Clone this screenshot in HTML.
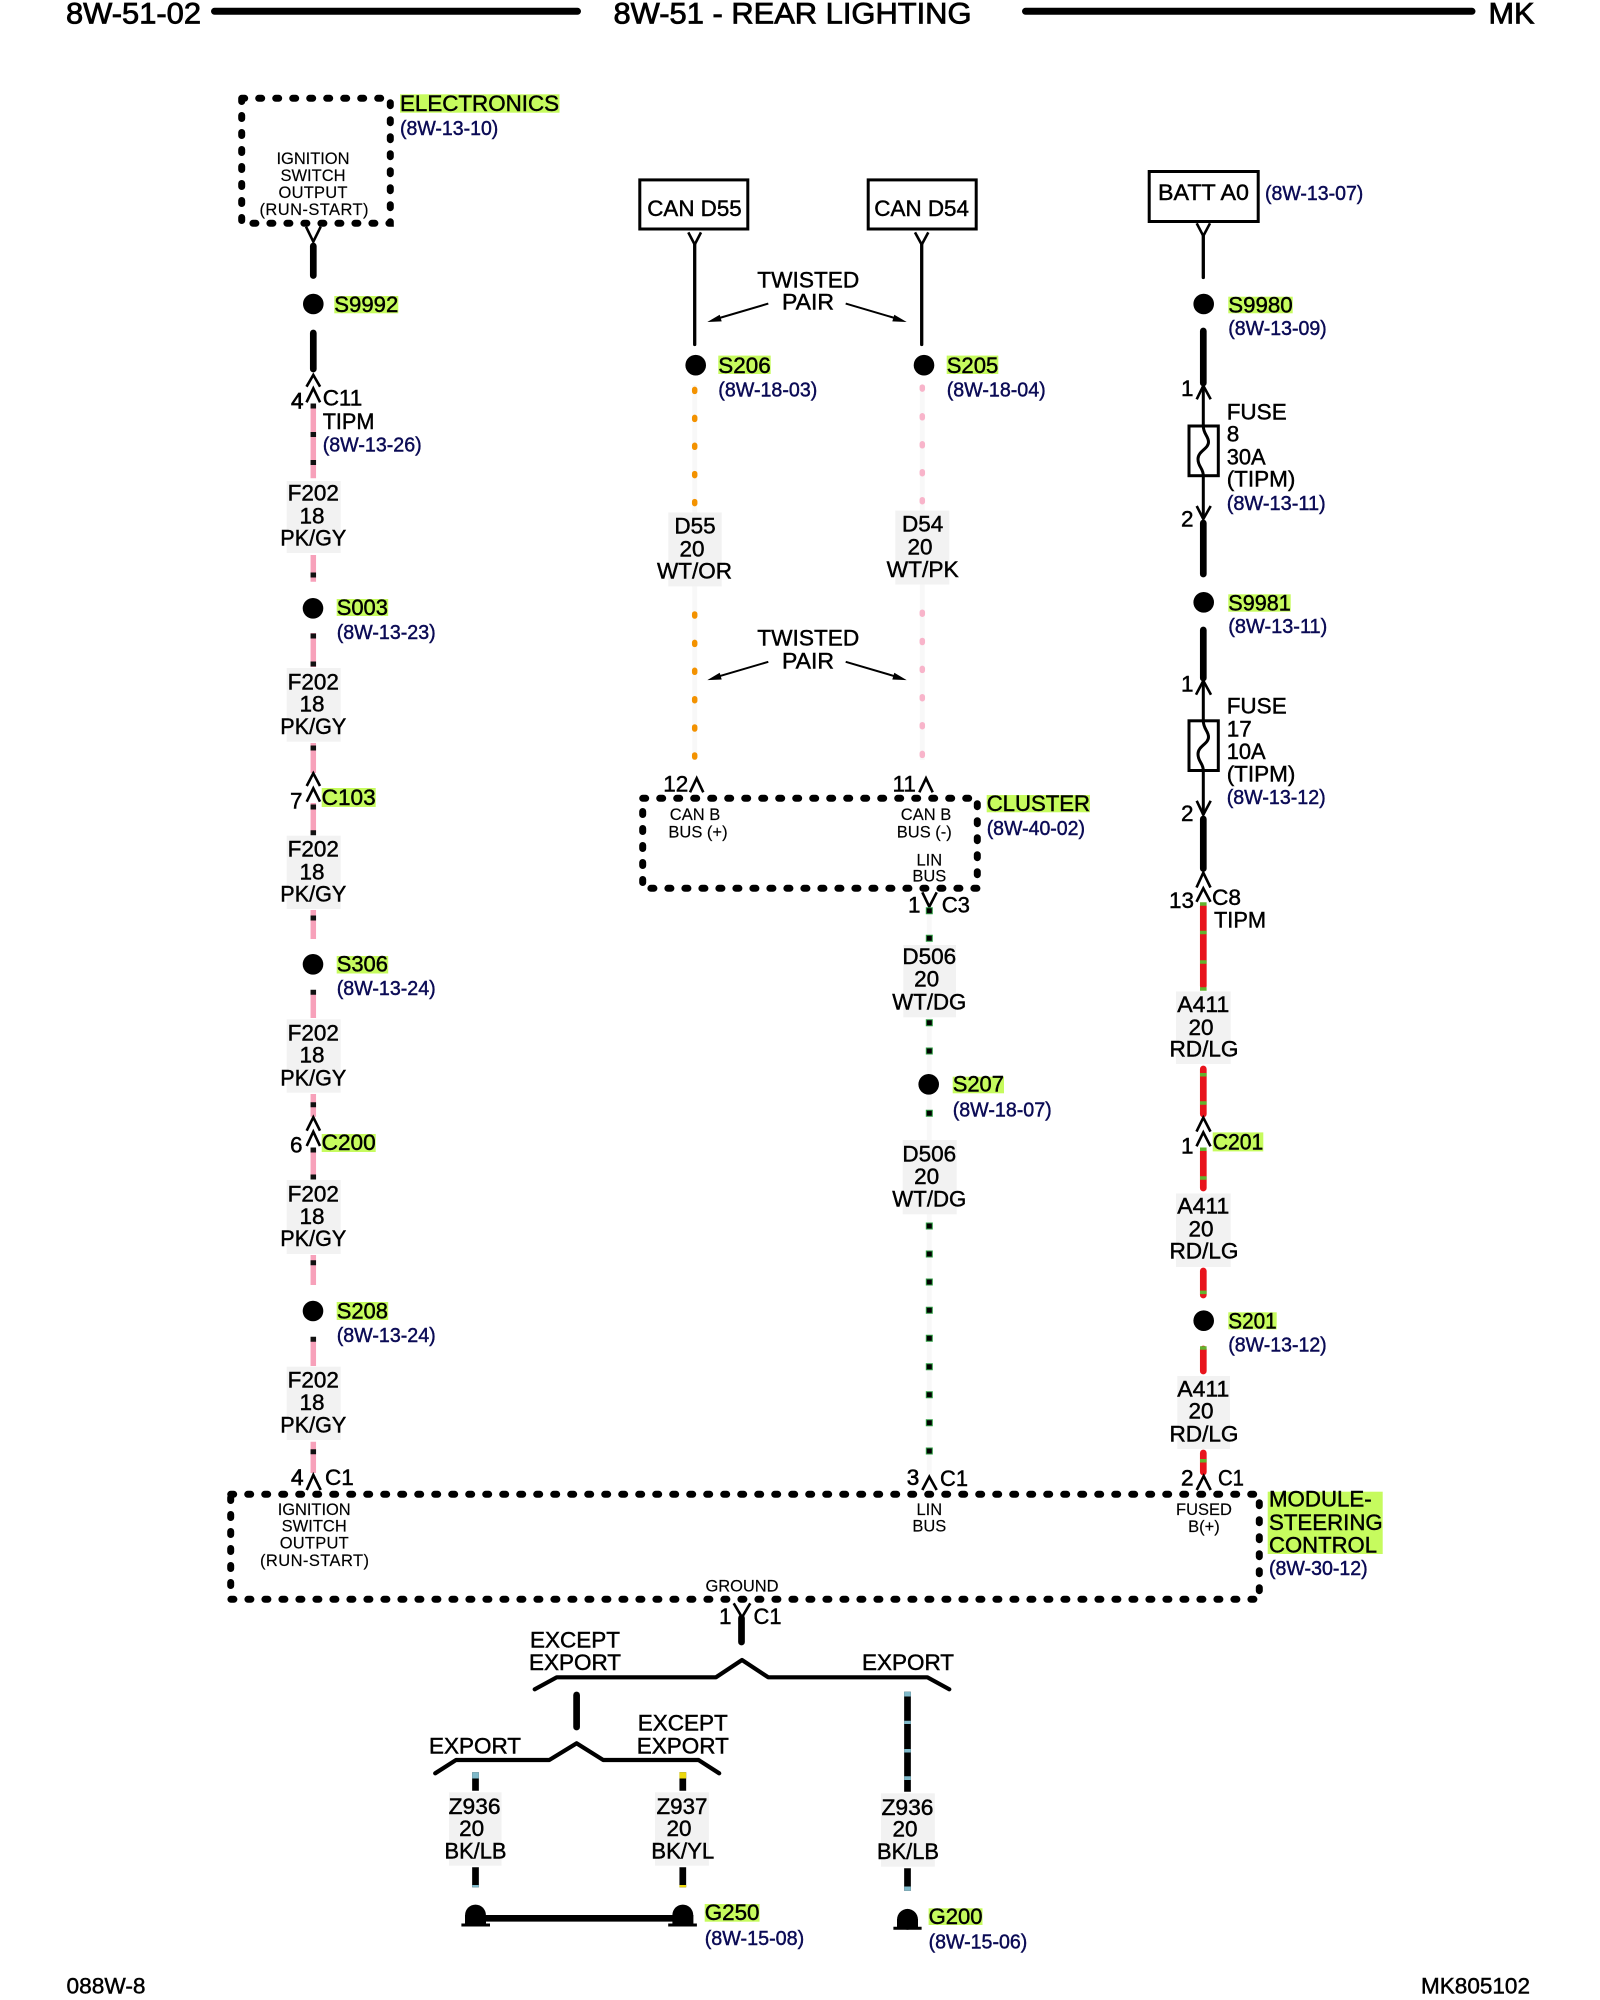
<!DOCTYPE html>
<html>
<head>
<meta charset="utf-8">
<title>8W-51 - REAR LIGHTING</title>
<style>
html,body{margin:0;padding:0;background:#fff;width:1600px;height:2000px;overflow:hidden}
svg{display:block}
text{font-family:"Liberation Sans",sans-serif;font-size:22.5px;fill:#000;stroke:#000;stroke-width:.45}
.m{text-anchor:middle}
.r{font-size:20px;fill:#0b0b55;stroke:#0b0b55;stroke-width:.45}
.s{font-size:16.5px;text-anchor:middle;fill:#000;stroke:#000;stroke-width:.15}
.h{font-size:30px;stroke-width:.8}
.g{fill:#c6fb5e}
.b{fill:#f2f2f2}
.d{fill:none;stroke:#000;stroke-width:7;stroke-dasharray:3 14;stroke-linecap:round}
.w{fill:none;stroke:#000;stroke-width:6.7;stroke-linecap:round}
.n{fill:none;stroke:#000;stroke-width:3.3;stroke-linecap:round}
.c{fill:none;stroke:#000;stroke-width:2.6}
.p{fill:none;stroke:#f7a1ba;stroke-width:5.5}
.k{fill:none;stroke:#111;stroke-width:5.5}
.f{fill:none;stroke:#f8f8f8;stroke-width:5}
.red{fill:none;stroke:#e8141c;stroke-width:6.7;stroke-linecap:round}
.lg{fill:none;stroke:#62b32e;stroke-width:3.5}
.or{fill:none;stroke:#f39200;stroke-width:5.5;stroke-linecap:round}
.pk{fill:none;stroke:#f8b4ca;stroke-width:5.5;stroke-linecap:round}
.dg{fill:none;stroke:#2f9e44;stroke-width:7}
.dk{fill:none;stroke:#000;stroke-width:5}
.lb{fill:none;stroke:#7fb9c9;stroke-width:6.7}
.yl{fill:none;stroke:#ecd80c;stroke-width:6.7}
.br{fill:none;stroke:#000;stroke-width:4.2;stroke-linecap:round;stroke-linejoin:round}
</style>
</head>
<body>
<svg xmlns="http://www.w3.org/2000/svg" width="1600" height="2000" viewBox="0 0 1600 2000">

<!-- header -->
<text class="h" x="66" y="23.5" textLength="135" lengthAdjust="spacingAndGlyphs">8W-51-02</text>
<text class="h" x="613.5" y="23.5" textLength="358" lengthAdjust="spacingAndGlyphs">8W-51 - REAR LIGHTING</text>
<text class="h" x="1488.5" y="23.5" textLength="46" lengthAdjust="spacingAndGlyphs">MK</text>
<path d="M214.5 11.3H577.5M1025.5 11.3H1472" stroke="#000" stroke-width="7" stroke-linecap="round" fill="none"/>

<!-- footer -->
<text x="66.5" y="1993.5" textLength="79" lengthAdjust="spacingAndGlyphs">088W-8</text>
<text x="1426" y="1993.5" textLength="109" lengthAdjust="spacingAndGlyphs" transform="translate(-5 0)">MK805102</text>

<!-- LEFT COLUMN -->
<rect class="d" x="241.7" y="98.3" width="148.6" height="125"/>
<text class="s" x="313" y="164" textLength="73">IGNITION</text>
<text class="s" x="313" y="181">SWITCH</text>
<text class="s" x="313" y="198" textLength="69">OUTPUT</text>
<text class="s" x="314" y="215" textLength="109">(RUN-START)</text>
<rect class="g" x="400" y="94.3" width="159.5" height="18.4"/>
<text x="400" y="111" textLength="159" lengthAdjust="spacingAndGlyphs">ELECTRONICS</text>
<text class="r" x="400" y="135" textLength="98.3" lengthAdjust="spacingAndGlyphs">(8W-13-10)</text>
<path class="c" d="M306 226.7L313.3 241.7L320.7 226.7"/>
<path class="w" d="M313.3 246V275.5M313.3 333V369"/>
<circle cx="313.3" cy="304" r="10.3"/>
<rect class="g" x="334.3" y="296" width="64" height="17.3"/>
<text x="334.3" y="312" textLength="64" lengthAdjust="spacingAndGlyphs">S9992</text>
<path class="c" d="M306.5 386.7L313.3 375L320.1 386.7M306.5 402.3L313.3 388.3L320.1 402.3"/>
<text x="291" y="408.3" style="stroke-width:.7">4</text>
<text x="322.7" y="405.7">C11</text>
<text x="322.7" y="429" textLength="51.7" lengthAdjust="spacingAndGlyphs">TIPM</text>
<text class="r" x="322.7" y="451.7" textLength="99" lengthAdjust="spacingAndGlyphs">(8W-13-26)</text>

<path class="p" d="M313.3 405V478.3M313.3 555V581.7M313.3 633V667M313.3 743V773M313.3 803V833M313.3 910V939M313.3 990V1018M313.3 1094V1116.7M313.3 1148V1179M313.3 1255V1285M313.3 1337V1366M313.3 1441.7V1473"/>
<path class="k" d="M313.3 403.5V408.5M313.3 432V437M313.3 460V465M313.3 572.5V577.5M313.3 633.5V638.5M313.3 661.5V666.5M313.3 745.5V750.5M313.3 804.5V809.5M313.3 830.2V835.2M313.3 915.5V920.5M313.3 989.8V994.8M313.3 1102.2V1107.2M313.3 1147.5V1152.5M313.3 1174.5V1179.5M313.3 1260.2V1265.2M313.3 1336.8V1341.8M313.3 1449.2V1454.2"/>

<g class="m">
<rect class="b" x="286.7" y="481" width="54" height="72"/>
<text class="m" x="313.3" y="500.7">F202</text><text class="m" x="312" y="523.3">18</text><text class="m" x="313.3" y="545.7" textLength="66" lengthAdjust="spacingAndGlyphs">PK/GY</text>
<rect class="b" x="286.7" y="668" width="54" height="73.7"/>
<text class="m" x="313.3" y="689.3">F202</text><text class="m" x="312" y="711.7">18</text><text class="m" x="313.3" y="734" textLength="66" lengthAdjust="spacingAndGlyphs">PK/GY</text>
<rect class="b" x="286.7" y="835.7" width="54" height="73.3"/>
<text class="m" x="313.3" y="856.7">F202</text><text class="m" x="312" y="879.3">18</text><text class="m" x="313.3" y="901.7" textLength="66" lengthAdjust="spacingAndGlyphs">PK/GY</text>
<rect class="b" x="286.7" y="1019.3" width="54" height="73.4"/>
<text class="m" x="313.3" y="1040.7">F202</text><text class="m" x="312" y="1062.7">18</text><text class="m" x="313.3" y="1085.3" textLength="66" lengthAdjust="spacingAndGlyphs">PK/GY</text>
<rect class="b" x="286.7" y="1180" width="54" height="74"/>
<text class="m" x="313.3" y="1201.7">F202</text><text class="m" x="312" y="1224">18</text><text class="m" x="313.3" y="1246" textLength="66" lengthAdjust="spacingAndGlyphs">PK/GY</text>
<rect class="b" x="286.7" y="1366.7" width="54" height="73.3"/>
<text class="m" x="313.3" y="1387.3">F202</text><text class="m" x="312" y="1410">18</text><text class="m" x="313.3" y="1432.3" textLength="66" lengthAdjust="spacingAndGlyphs">PK/GY</text>
</g>

<circle cx="313" cy="608.3" r="10.3"/>
<rect class="g" x="336.7" y="599" width="51.5" height="17"/>
<text x="336.7" y="615" textLength="51.3" lengthAdjust="spacingAndGlyphs">S003</text>
<text class="r" x="336.7" y="639" textLength="99" lengthAdjust="spacingAndGlyphs">(8W-13-23)</text>

<path class="c" d="M306.7 786L313.3 773.3L320 786M306.7 801.7L313.3 788.3L320 801.7"/>
<text x="290" y="808.3">7</text>
<rect class="g" x="321.7" y="788" width="54" height="19"/>
<text x="321.7" y="805" textLength="54" lengthAdjust="spacingAndGlyphs">C103</text>

<circle cx="313" cy="964.3" r="10.3"/>
<rect class="g" x="336.7" y="956" width="51.5" height="17.5"/>
<text x="336.7" y="971.7" textLength="51.3" lengthAdjust="spacingAndGlyphs">S306</text>
<text class="r" x="336.7" y="995" textLength="99" lengthAdjust="spacingAndGlyphs">(8W-13-24)</text>

<path class="c" d="M306.7 1130.7L313.3 1117.3L320 1130.7M306.7 1146L313.3 1131.7L320 1146"/>
<text x="290" y="1152.7">6</text>
<rect class="g" x="321.7" y="1134" width="54" height="18"/>
<text x="321.7" y="1150" textLength="54" lengthAdjust="spacingAndGlyphs">C200</text>

<circle cx="313" cy="1311" r="10.3"/>
<rect class="g" x="336.7" y="1302" width="51.5" height="18"/>
<text x="336.7" y="1318.3" textLength="51.3" lengthAdjust="spacingAndGlyphs">S208</text>
<text class="r" x="336.7" y="1342" textLength="99" lengthAdjust="spacingAndGlyphs">(8W-13-24)</text>

<path class="c" d="M306.7 1490L313.3 1475L320.7 1490"/>
<text x="291" y="1485" style="stroke-width:.7">4</text>
<text x="325" y="1485">C1</text>

<!-- MODULE BOX -->
<rect class="d" x="230.7" y="1494.3" width="1028.6" height="105"/>
<text class="s" x="314.2" y="1515" textLength="73">IGNITION</text>
<text class="s" x="314.2" y="1531.7">SWITCH</text>
<text class="s" x="314.2" y="1548.3" textLength="69">OUTPUT</text>
<text class="s" x="314.5" y="1566" textLength="109">(RUN-START)</text>
<text class="s" x="929.3" y="1515">LIN</text>
<text class="s" x="929.3" y="1531.7">BUS</text>
<text class="s" x="1204" y="1515">FUSED</text>
<text class="s" x="1204" y="1532">B(+)</text>
<text class="s" x="742" y="1591.7" textLength="73">GROUND</text>
<rect class="g" x="1267.7" y="1491.7" width="115" height="62.3"/>
<text x="1269" y="1506.7" textLength="102.7" lengthAdjust="spacingAndGlyphs">MODULE-</text>
<text x="1269" y="1530" textLength="113.7" lengthAdjust="spacingAndGlyphs">STEERING</text>
<text x="1269" y="1552.7" textLength="108" lengthAdjust="spacingAndGlyphs">CONTROL</text>
<text class="r" x="1269" y="1575" textLength="98.7" lengthAdjust="spacingAndGlyphs">(8W-30-12)</text>

<!-- MIDDLE -->
<rect x="639.8" y="179.9" width="108" height="49.1" fill="#fff" stroke="#000" stroke-width="3"/>
<text x="647.3" y="216" textLength="94.4" lengthAdjust="spacingAndGlyphs">CAN D55</text>
<path class="c" d="M688.3 232.4L694.7 244.6L701 232.4"/>
<path class="n" d="M694.7 244.6V344.5"/>
<rect x="868.2" y="179.9" width="108" height="49.1" fill="#fff" stroke="#000" stroke-width="3"/>
<text x="874.3" y="216" textLength="94.7" lengthAdjust="spacingAndGlyphs">CAN D54</text>
<path class="c" d="M915 232.4L921.7 244.6L928.3 232.4"/>
<path class="n" d="M921.7 244.6V344.5"/>

<text class="m" x="808.3" y="287.5" textLength="102" lengthAdjust="spacingAndGlyphs">TWISTED</text>
<text class="m" x="808" y="309.7" textLength="52" lengthAdjust="spacingAndGlyphs">PAIR</text>
<path d="M768.3 303.6L716 319M845.7 303.6L898 319" stroke="#000" stroke-width="2" fill="none"/>
<path d="M707.3 322L721.7 321.4L719.7 314.7ZM906.7 322L892.3 321.4L894.3 314.7Z"/>
<text class="m" x="808.3" y="645.7" textLength="102" lengthAdjust="spacingAndGlyphs">TWISTED</text>
<text class="m" x="808" y="668.7" textLength="52" lengthAdjust="spacingAndGlyphs">PAIR</text>
<path d="M768.3 661.8L716 677.2M845.7 661.8L898 677.2" stroke="#000" stroke-width="2" fill="none"/>
<path d="M707.3 680.1L721.7 679.5L719.7 672.8ZM906.7 680.1L892.3 679.5L894.3 672.8Z"/>

<circle cx="695.7" cy="365.2" r="10.3"/>
<circle cx="924" cy="365.2" r="10.3"/>
<rect class="g" x="718.3" y="355.6" width="52.4" height="18.4"/>
<text x="718.3" y="372.8" textLength="52.4" lengthAdjust="spacingAndGlyphs">S206</text>
<text class="r" x="718.3" y="396.3" textLength="99" lengthAdjust="spacingAndGlyphs">(8W-18-03)</text>
<rect class="g" x="946.7" y="355.6" width="51.6" height="18.4"/>
<text x="946.7" y="372.8" textLength="51.6" lengthAdjust="spacingAndGlyphs">S205</text>
<text class="r" x="946.7" y="396.3" textLength="99" lengthAdjust="spacingAndGlyphs">(8W-18-04)</text>

<path class="f" d="M694.7 385V760M922.3 385V760M929.3 905V1475"/>
<path class="or" d="M694.7 389.4v2M694.7 417.4v2M694.7 445.3v2M694.7 473.6v2M694.7 501.6v2M694.7 614v2M694.7 642.4v2M694.7 670.3v2M694.7 698.7v2M694.7 727v2M694.7 755v2"/>
<path class="pk" d="M922.3 387.1v2M922.3 415.8v2M922.3 443.8v2M922.3 471.7v2M922.3 499.7v2M922.3 612.2v2M922.3 640.5v2M922.3 668.4v2M922.3 696.7v2M922.3 724.7v2M922.3 753.4v2"/>

<rect class="b" x="668.3" y="512.5" width="53.4" height="73.9"/>
<text class="m" x="695" y="533.6">D55</text><text class="m" x="692" y="556.5">20</text><text class="m" x="694.5" y="578.7" textLength="75" lengthAdjust="spacingAndGlyphs">WT/OR</text>
<rect class="b" x="895.3" y="510.6" width="54" height="73.9"/>
<text class="m" x="922.7" y="531.7">D54</text><text class="m" x="920" y="554.6">20</text><text class="m" x="922.7" y="576.8" textLength="72" lengthAdjust="spacingAndGlyphs">WT/PK</text>

<text x="663.3" y="791.7">12</text>
<path class="c" d="M690 792.3L696.7 778.3L703.3 792.3"/>
<text x="892.5" y="791.7">11</text>
<path class="c" d="M919.3 792.3L926 778.3L932.7 792.3"/>
<rect class="d" x="642.7" y="798.3" width="334.6" height="90"/>
<text class="s" x="695" y="820">CAN B</text>
<text class="s" x="698" y="837.3">BUS (+)</text>
<text class="s" x="926" y="820">CAN B</text>
<text class="s" x="924.3" y="837.3">BUS (-)</text>
<text class="s" x="929.3" y="865.7">LIN</text>
<text class="s" x="929.3" y="881.7">BUS</text>
<rect class="g" x="986.7" y="795" width="103.3" height="17.3"/>
<text x="986.7" y="811" textLength="103.3" lengthAdjust="spacingAndGlyphs">CLUSTER</text>
<text class="r" x="986.7" y="835" textLength="98.3" lengthAdjust="spacingAndGlyphs">(8W-40-02)</text>
<path class="c" d="M922.3 892.3L929.3 906.7L936.7 892.3"/>
<text x="908" y="912.7">1</text>
<text x="941.7" y="912.7" textLength="28.3" lengthAdjust="spacingAndGlyphs">C3</text>

<path class="dg" d="M929.3 907.2v7M929.3 934.8v7M929.3 1019.2v7M929.3 1047.5v7M929.3 1109.8v7M929.3 1222.5v7M929.3 1250.5v7M929.3 1278.5v7M929.3 1306.8v7M929.3 1334.8v7M929.3 1363.2v7M929.3 1391.2v7M929.3 1419.2v7M929.3 1447.5v7"/>
<path class="dk" d="M929.3 908.2v5M929.3 935.8v5M929.3 1020.2v5M929.3 1048.5v5M929.3 1110.8v5M929.3 1223.5v5M929.3 1251.5v5M929.3 1279.5v5M929.3 1307.8v5M929.3 1335.8v5M929.3 1364.2v5M929.3 1392.2v5M929.3 1420.2v5M929.3 1448.5v5"/>

<rect class="b" x="903.3" y="945" width="52.7" height="72.3"/>
<text class="m" x="929.3" y="964">D506</text><text class="m" x="926.7" y="986.7">20</text><text class="m" x="929.3" y="1009.3" textLength="74" lengthAdjust="spacingAndGlyphs">WT/DG</text>
<circle cx="928.7" cy="1084.3" r="10.3"/>
<rect class="g" x="952.7" y="1076.7" width="51.3" height="16.6"/>
<text x="952.7" y="1091.7" textLength="51.3" lengthAdjust="spacingAndGlyphs">S207</text>
<text class="r" x="952.7" y="1116.3" textLength="99" lengthAdjust="spacingAndGlyphs">(8W-18-07)</text>
<rect class="b" x="902.7" y="1140" width="54" height="74.3"/>
<text class="m" x="929.3" y="1161.3">D506</text><text class="m" x="926.7" y="1184">20</text><text class="m" x="929.3" y="1206.3" textLength="74" lengthAdjust="spacingAndGlyphs">WT/DG</text>
<path class="c" d="M922.3 1490L929.3 1476.7L936.7 1490"/>
<text x="906.7" y="1485" style="stroke-width:.6">3</text>
<text x="940" y="1486" textLength="28" lengthAdjust="spacingAndGlyphs">C1</text>

<!-- RIGHT COLUMN -->
<rect x="1149.2" y="171.5" width="109" height="50" fill="#fff" stroke="#000" stroke-width="3"/>
<text x="1158" y="200" textLength="91" lengthAdjust="spacingAndGlyphs">BATT A0</text>
<text class="r" x="1265" y="200" textLength="98.3" lengthAdjust="spacingAndGlyphs">(8W-13-07)</text>
<path class="c" d="M1196.7 223.3L1203.3 236L1210 223.3"/>
<path class="n" d="M1203.3 236V277.5"/>
<circle cx="1203.7" cy="304" r="10.3"/>
<rect class="g" x="1228.3" y="296.7" width="64.4" height="16.6"/>
<text x="1228.3" y="312.3" textLength="64.4" lengthAdjust="spacingAndGlyphs">S9980</text>
<text class="r" x="1228.3" y="335" textLength="98.4" lengthAdjust="spacingAndGlyphs">(8W-13-09)</text>
<path class="w" d="M1203.3 331V383M1203.3 523V574"/>
<text x="1181" y="396">1</text>
<path class="c" d="M1196.7 399.3L1203.3 385.7L1210.7 399.3"/>
<path class="c" style="stroke-width:3" d="M1203.3 385.7V426M1203.3 475.7V518"/>
<rect x="1189" y="426" width="29.3" height="49.7" fill="#fff" stroke="#000" stroke-width="3"/>
<path class="c" style="stroke-width:3" d="M1203.3 426C1203.3 434 1208.5 436 1208.5 442C1208.5 449 1198 451 1198 459C1198 467 1203.3 468 1203.3 475.7"/>
<text x="1226.7" y="419.3">FUSE</text>
<text x="1226.7" y="441.7">8</text>
<text x="1226.7" y="464.3" textLength="39" lengthAdjust="spacingAndGlyphs">30A</text>
<text x="1226.7" y="486.7">(TIPM)</text>
<text class="r" x="1226.7" y="510" textLength="99" lengthAdjust="spacingAndGlyphs">(8W-13-11)</text>
<text x="1181" y="526.7">2</text>
<path class="c" d="M1196.7 506L1203.3 519L1210.7 506"/>
<circle cx="1203.7" cy="602.3" r="10.3"/>
<rect class="g" x="1228.3" y="594.3" width="62.4" height="17.4"/>
<text x="1228.3" y="610.7" textLength="62.4" lengthAdjust="spacingAndGlyphs">S9981</text>
<text class="r" x="1228.3" y="633" textLength="99" lengthAdjust="spacingAndGlyphs">(8W-13-11)</text>
<path class="w" d="M1203.3 630V678M1203.3 819V868.5"/>
<text x="1181" y="691.3">1</text>
<path class="c" d="M1196 694.7L1203.3 680.8L1211 694.7"/>
<path class="c" style="stroke-width:3" d="M1203.3 680.8V720.8M1203.3 770.5V814.7"/>
<rect x="1189" y="720.8" width="29.3" height="49.7" fill="#fff" stroke="#000" stroke-width="3"/>
<path class="c" style="stroke-width:3" d="M1203.3 720.8C1203.3 729 1208.5 731 1208.5 737C1208.5 744 1198 746 1198 754C1198 762 1203.3 763 1203.3 770.5"/>
<text x="1226.7" y="713.7">FUSE</text>
<text x="1226.7" y="736.3">17</text>
<text x="1226.7" y="759" textLength="39" lengthAdjust="spacingAndGlyphs">10A</text>
<text x="1226.7" y="781.7">(TIPM)</text>
<text class="r" x="1226.7" y="804" textLength="99" lengthAdjust="spacingAndGlyphs">(8W-13-12)</text>
<text x="1181" y="821">2</text>
<path class="c" d="M1196.7 800.8L1203.3 814.7L1210.7 800.8"/>
<path class="c" d="M1196.5 887.5L1203.3 872.7L1210.5 887.5M1196.5 901.8L1203.3 888.3L1210.5 901.8"/>
<text x="1169" y="908.1">13</text>
<text x="1212" y="905" textLength="29" lengthAdjust="spacingAndGlyphs">C8</text>
<text x="1214" y="927.5" textLength="52" lengthAdjust="spacingAndGlyphs">TIPM</text>

<path class="red" d="M1203.3 906V986M1203.3 1069V1114M1203.3 1151V1188M1203.3 1271V1295M1203.3 1349V1371M1203.3 1453V1472"/>
<path class="lg" d="M1200 904h6.6M1200 932.5h6.6M1200 962h6.6M1200 989h6.6M1200 1074.8h6.6M1200 1103h6.6M1200 1149.3h6.6M1200 1178h6.6M1200 1292.4h6.6M1200 1348h6.6M1200 1460.7h6.6"/>

<rect class="b" x="1176" y="991.4" width="54.7" height="72.6"/>
<text class="m" x="1203.3" y="1012" textLength="52" lengthAdjust="spacingAndGlyphs">A411</text><text class="m" x="1201" y="1035">20</text><text class="m" x="1204" y="1056.7" textLength="69" lengthAdjust="spacingAndGlyphs">RD/LG</text>
<path class="c" d="M1196.5 1131.6L1203.3 1117.7L1210.5 1131.6M1196.5 1146.3L1203.3 1132.4L1210.5 1146.3"/>
<text x="1181" y="1153.5">1</text>
<rect class="g" x="1212.7" y="1132.4" width="50.6" height="19"/>
<text x="1212.7" y="1149.3" textLength="50.6" lengthAdjust="spacingAndGlyphs">C201</text>
<rect class="b" x="1176" y="1193.5" width="54.7" height="73.5"/>
<text class="m" x="1203.3" y="1213.7" textLength="52" lengthAdjust="spacingAndGlyphs">A411</text><text class="m" x="1201" y="1236.5">20</text><text class="m" x="1204" y="1258.7" textLength="69" lengthAdjust="spacingAndGlyphs">RD/LG</text>
<circle cx="1203.7" cy="1320.7" r="10.3"/>
<rect class="g" x="1228.3" y="1312.3" width="48.4" height="17"/>
<text x="1228.3" y="1328.3" textLength="48.4" lengthAdjust="spacingAndGlyphs">S201</text>
<text class="r" x="1228.3" y="1351.7" textLength="98.4" lengthAdjust="spacingAndGlyphs">(8W-13-12)</text>
<rect class="b" x="1177.3" y="1376" width="52.7" height="73"/>
<text class="m" x="1203.3" y="1396.7" textLength="52" lengthAdjust="spacingAndGlyphs">A411</text><text class="m" x="1201" y="1418.3">20</text><text class="m" x="1204" y="1441.7" textLength="69" lengthAdjust="spacingAndGlyphs">RD/LG</text>
<path class="c" d="M1196.7 1490L1203.7 1476L1210.7 1490"/>
<text x="1181" y="1485.7" style="stroke-width:.6">2</text>
<text x="1218" y="1485.7" textLength="26" lengthAdjust="spacingAndGlyphs">C1</text>

<!-- GROUND -->
<path class="c" d="M733.7 1603.3L742 1617.3L750.3 1603.3"/>
<text x="719" y="1624">1</text>
<text x="753.5" y="1624" textLength="28" lengthAdjust="spacingAndGlyphs">C1</text>
<path class="w" d="M741.5 1618V1642"/>
<text class="m" x="575" y="1647.3">EXCEPT</text>
<text class="m" x="575" y="1670" textLength="92" lengthAdjust="spacingAndGlyphs">EXPORT</text>
<text class="m" x="908" y="1670" textLength="92" lengthAdjust="spacingAndGlyphs">EXPORT</text>
<path class="br" d="M534.7 1689.3L556.7 1677.3H716L742 1660L768.2 1677.3H927.4L949.3 1689.3"/>
<path class="w" d="M576.6 1695V1727"/>
<text class="m" x="475" y="1753.3" textLength="92" lengthAdjust="spacingAndGlyphs">EXPORT</text>
<text class="m" x="682.8" y="1730.7">EXCEPT</text>
<text class="m" x="682.8" y="1753.3" textLength="92" lengthAdjust="spacingAndGlyphs">EXPORT</text>
<path class="br" d="M435.2 1773.3L456 1760H549.3L576.6 1743.3L603.2 1760H698.5L719.2 1773.3"/>

<path class="w" style="stroke-linecap:butt" d="M475.5 1772.3V1790.7M682.8 1772.3V1790.7M907.5 1691.7V1791.7M475.5 1867.3V1887.3M682.8 1867.3V1887.3M907.5 1868.3V1890.7"/>
<path class="lb" d="M475.5 1772.3V1778.5M907.5 1691.7V1696.5M907.5 1720.7V1724M907.5 1749V1752.5M907.5 1776.3V1780M475.5 1885V1887.3M907.5 1886.5V1890.7"/>
<path class="yl" d="M682.8 1772.3V1778.5M682.8 1885V1887.3"/>

<rect class="b" x="449" y="1792.3" width="52.6" height="73.4"/>
<text class="m" x="474.6" y="1814" textLength="52" lengthAdjust="spacingAndGlyphs">Z936</text><text class="m" x="471.7" y="1836">20</text><text class="m" x="475.5" y="1858.3" textLength="62" lengthAdjust="spacingAndGlyphs">BK/LB</text>
<rect class="b" x="655" y="1792.3" width="53.9" height="73.4"/>
<text class="m" x="682" y="1814" textLength="51" lengthAdjust="spacingAndGlyphs">Z937</text><text class="m" x="679" y="1836">20</text><text class="m" x="682.8" y="1858.3" textLength="63" lengthAdjust="spacingAndGlyphs">BK/YL</text>
<rect class="b" x="881" y="1793.3" width="53.8" height="73.4"/>
<text class="m" x="907.5" y="1815" textLength="52" lengthAdjust="spacingAndGlyphs">Z936</text><text class="m" x="905" y="1836.7">20</text><text class="m" x="908" y="1859" textLength="62" lengthAdjust="spacingAndGlyphs">BK/LB</text>

<circle cx="475.5" cy="1915" r="10.4"/>
<rect x="465" y="1915" width="21" height="9"/>
<path d="M461.4 1925H490M668.2 1925H696.9M893.4 1928.3H921.6" stroke="#000" stroke-width="3" fill="none"/>
<circle cx="682.8" cy="1915" r="10.4"/>
<rect x="672.4" y="1915" width="21" height="9"/>
<path d="M475.5 1918.3H682.8" stroke="#000" stroke-width="6.7" fill="none"/>
<circle cx="907.5" cy="1919.3" r="10.4"/>
<rect x="897" y="1919" width="21" height="9"/>
<rect class="g" x="704.7" y="1904" width="54.8" height="17.7"/>
<text x="704.7" y="1920" textLength="54.8" lengthAdjust="spacingAndGlyphs">G250</text>
<text class="r" x="704.7" y="1945" textLength="99.5" lengthAdjust="spacingAndGlyphs">(8W-15-08)</text>
<rect class="g" x="928.6" y="1908.3" width="53.9" height="16.7"/>
<text x="928.6" y="1924" textLength="53.9" lengthAdjust="spacingAndGlyphs">G200</text>
<text class="r" x="928.6" y="1948.3" textLength="98.7" lengthAdjust="spacingAndGlyphs">(8W-15-06)</text>
</svg>
</body>
</html>
